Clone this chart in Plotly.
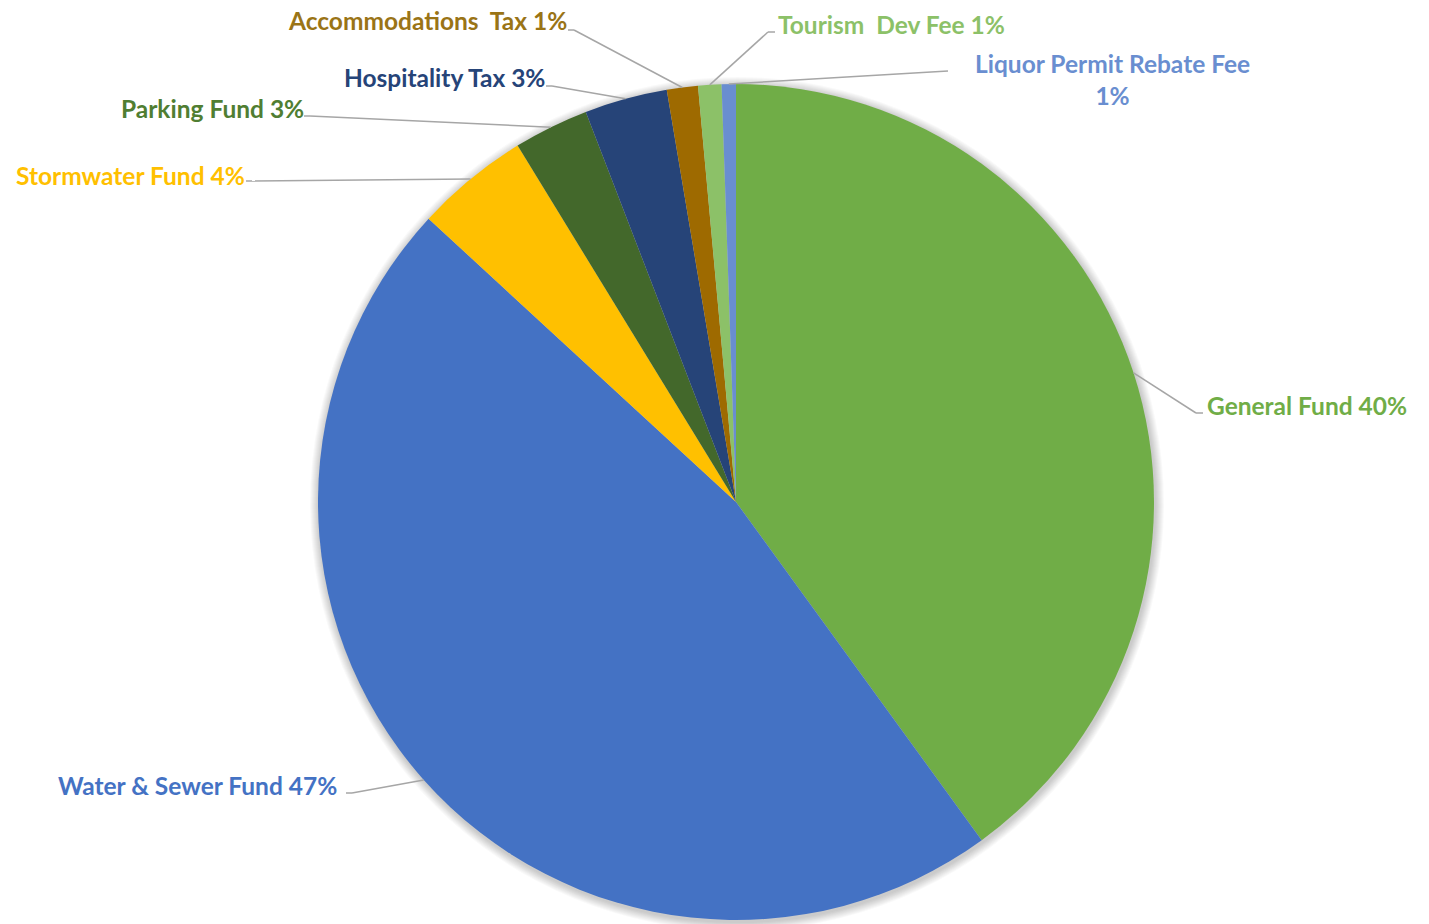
import math
import plotly.graph_objects as go

# Fund shares (percent), clockwise from 12 o'clock
funds = [
    "General Fund",
    "Water & Sewer Fund",
    "Stormwater Fund",
    "Parking Fund",
    "Hospitality Tax",
    "Accommodations  Tax",
    "Tourism  Dev Fee",
    "Liquor Permit Rebate Fee",
]
shares = [40.0, 46.85, 4.4, 2.9, 3.2, 1.2, 0.9, 0.55]
slice_colors = ["#70AD47", "#4472C4", "#FFC000", "#43682B",
                "#264478", "#9E6A00", "#8CC168", "#698ED0"]
label_colors = ["#70AD47", "#4472C4", "#FFC000", "#507E32",
                "#264478", "#9A7416", "#8CC168", "#698ED0"]

W, H = 1429, 924
CX, CY, R = 736, 502, 418  # pie centre and radius in pixels

# label placement: (anchor x, anchor y, xanchor, elbow point in px)
label_layout = [
    (1205, 405, "left", (1196, 413)),
    (339, 785, "right", (352, 793)),
    (247, 175, "right", (252, 181)),
    (306, 108, "right", (310, 116)),
    (547, 78, "right", (552, 86)),
    (569, 20, "right", (574, 30)),
    (776, 25, "left", (768, 32)),
    (1112, 80, "center", (948, 71)),
]

fig = go.Figure(go.Pie(
    labels=funds,
    values=shares,
    sort=False,
    direction="clockwise",
    rotation=0,
    marker=dict(colors=slice_colors, line=dict(width=0)),
    textinfo="none",
    hoverinfo="label+percent",
    domain=dict(x=[(CX - R) / W, (CX + R) / W],
                y=[(H - CY - R) / H, (H - CY + R) / H]),
    showlegend=False,
))


def px(x, y):
    return x / W, 1 - y / H


# soft shadow around the pie
shapes = []
for i in range(9, 0, -1):
    rr = R + i
    x0, y0 = px(CX - rr + 1, CY - rr + 2)
    x1, y1 = px(CX + rr + 1, CY + rr + 2)
    shapes.append(dict(type="circle", xref="paper", yref="paper",
                       x0=x0, y0=y1, x1=x1, y1=y0, layer="below",
                       fillcolor="rgba(0,0,0,0.022)", line=dict(width=0)))

annotations = []
total = sum(shares)
cum = 0.0
for name, val, col, (lx, ly, xa, elbow) in zip(funds, shares, label_colors, label_layout):
    mid = (cum + val / 2) / total * 2 * math.pi
    cum += val
    ex = CX + R * math.sin(mid)
    ey = CY - R * math.cos(mid)
    pct = f"{round(val + 1e-9):.0f}%"
    if name.startswith("Liquor"):
        text = f"{name}<br>{pct}"
    else:
        text = f"{name} {pct}"
    # leader line: slice edge -> elbow -> short horizontal tick
    ax0, ay0 = px(ex, ey)
    bx, by = px(*elbow)
    shapes.append(dict(type="line", xref="paper", yref="paper",
                       x0=ax0, y0=ay0, x1=bx, y1=by,
                       line=dict(color="#A6A6A6", width=1.5)))
    if xa == "left":
        shapes.append(dict(type="line", xref="paper", yref="paper",
                           x0=bx, y0=by, x1=px(elbow[0] + 7, elbow[1])[0], y1=by,
                           line=dict(color="#A6A6A6", width=1.5)))
    elif xa == "right":
        shapes.append(dict(type="line", xref="paper", yref="paper",
                           x0=bx, y0=by, x1=px(elbow[0] - 6, elbow[1])[0], y1=by,
                           line=dict(color="#A6A6A6", width=1.5)))
    axp, ayp = px(lx, ly)
    annotations.append(dict(
        x=axp, y=ayp, xref="paper", yref="paper",
        xanchor=xa, yanchor="middle", text=f"<b>{text}</b>",
        showarrow=False, align="center",
        font=dict(family="Lato, 'Open Sans', sans-serif", size=24.5, color=col),
    ))

fig.update_layout(
    width=W, height=H,
    margin=dict(l=0, r=0, t=0, b=0),
    paper_bgcolor="white",
    plot_bgcolor="white",
    shapes=shapes,
    annotations=annotations,
)

fig.write_html("out.html")
